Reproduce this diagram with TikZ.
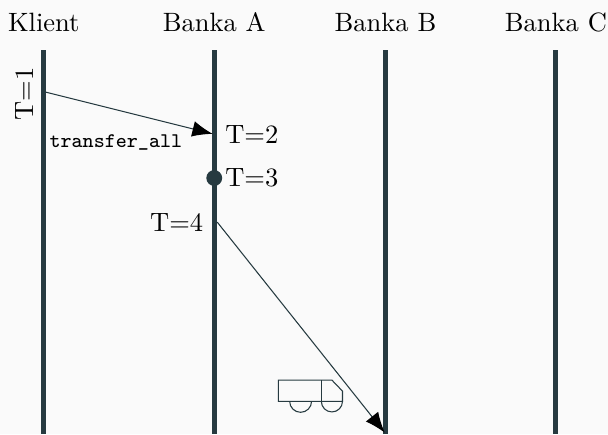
\documentclass[tikz,border=0pt]{standalone}
\usepackage{amsmath}
\usepackage{amssymb}
\usetikzlibrary{arrows.meta}
\definecolor{lane}{HTML}{263A40}
\definecolor{paper}{HTML}{FAFAFA}
\tikzset{
  lifeline/.style={draw=lane,line width=1.9pt},
  msg/.style={draw=lane,line width=0.4pt,-{Latex[black,length=2.7mm,width=2.1mm]}},
  truck/.style={draw=lane,line width=0.4pt},
}

\begin{document}
\begin{tikzpicture}
      \fill[paper] (0,0) rectangle (8.06,5.755);
      \useasboundingbox (0,0) rectangle (8.06,5.755);
      % hlavicky
      \node (klient) at (0.58,5.46) {Klient};
      \node (bankaA) at (2.84,5.46) {Banka A};
      \node (bankaB) at (5.11,5.46) {Banka B};
      \node (bankaC) at (7.37,5.46) {Banka C};
      \coordinate (klientTop) at (0.58,5.09);
      \coordinate (klientEnd) at (0.58,0);
      \coordinate (aTop) at (2.84,5.09);
      \coordinate (aEnd) at (2.84,0);
      \coordinate (bTop) at (5.11,5.09);
      \coordinate (bEnd) at (5.11,0);
      \coordinate (cTop) at (7.37,5.09);
      \coordinate (cEnd) at (7.37,0);
      \draw[lifeline] (klientTop) -- (klientEnd);
      \draw[lifeline] (aTop) -- (aEnd);
      \draw[lifeline] (bTop) -- (bEnd);
      \draw[lifeline] (cTop) -- (cEnd);
      % zpravy
      \coordinate (t1) at (0.60,4.535);
      \coordinate (t2) at (2.82,3.98);
      \coordinate (t4) at (2.88,2.81);
      \coordinate (t5) at (5.10,0.02);
      \draw[msg] (t1) -- (t2);
      \draw[msg] (t4) -- (t5);
      \node[circle,fill=lane,inner sep=0pt,minimum size=0.21cm] (t3) at (2.84,3.395) {};
      \node[rotate=90] (labelA) at (0.33,4.51) {T=1};
      \node[right,inner sep=0pt] (labelB) at (2.98,3.97) {T=2};
      \node[right,inner sep=0pt] (labelC) at (2.98,3.395) {T=3};
      \node[left,inner sep=0pt] (labelD) at (2.70,2.81) {T=4};
      \node[right,inner sep=0pt,font=\fontsize{7.85}{9}\selectfont\ttfamily] (transfer) at (0.65,3.87) {transfer\_all};
      % auto
      \draw[truck] (3.69,0.434) -- (3.69,0.716) -- (4.40,0.716) -- (4.54,0.57) -- (4.54,0.434) -- cycle;
      \draw[truck] (4.26,0.716) -- (4.26,0.434);
      \draw[truck] (3.84,0.434) arc (180:360:0.145);
      \draw[truck] (4.26,0.434) arc (180:360:0.14);
\end{tikzpicture}
\end{document}
